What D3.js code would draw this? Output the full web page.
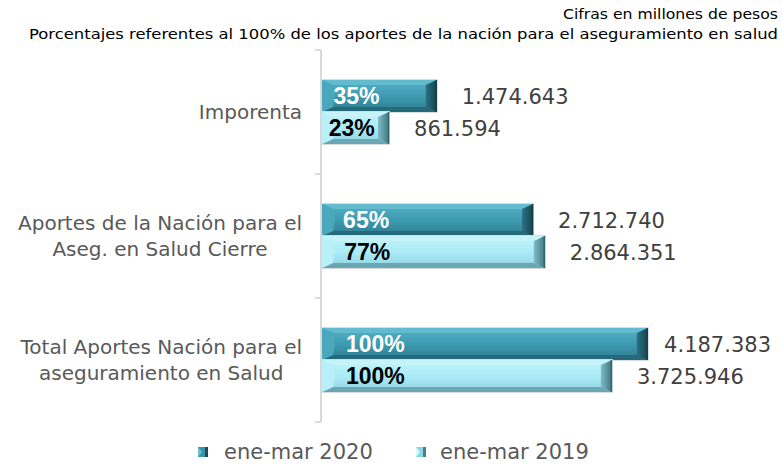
<!DOCTYPE html>
<html><head><meta charset="utf-8">
<script src="https://cdn.jsdelivr.net/npm/d3@7"></script>
<style>body{margin:0;background:#fff}svg{display:block}</style>
</head><body>
<svg id="c" width="782" height="465"></svg>
<script>
const categories = [
  ["Imporenta"],
  ["Aportes de la Nación para el", "Aseg. en Salud Cierre"],
  ["Total Aportes Nación para el", "aseguramiento en Salud"]
];
const seriesNames = ["ene-mar 2020", "ene-mar 2019"];
const values2020 = [1474643, 2712740, 4187383];
const values2019 = [861594, 2864351, 3725946];
const pct2020 = ["35%", "65%", "100%"];
const pct2019 = ["23%", "77%", "100%"];
const titleLines = ["Cifras en millones de pesos",
  "Porcentajes referentes al 100% de los aportes de la nación para el aseguramiento en salud"];

const svg = d3.select("#c");
const x = d3.scaleLinear().domain([0, 5000000]).range([322, 711]);
const y = d3.scaleBand().domain(d3.range(categories.length)).range([50, 422]);
const sub = d3.scaleBand().domain([0, 1]).range([0, 64]);
const fmt = v => d3.format(",")(v).replace(/,/g, ".");

const styles = [
  {main: ["#55b1c6", "#3d9bb1", "#2f7b8e"], top: "#62bbce", bot: "#26697a", left: "#4aa8bd", right: ["#2b7283", "#15424e"], txt: "#ffffff"},
  {main: ["#c2f4fb", "#aaebf7", "#90d4e1"], top: "#c6f2f9", bot: "#68a7b3", left: "#b8f0f9", right: ["#7fbcc7", "#3f7681"], txt: "#000000"}
];
const defs = svg.append("defs");
styles.forEach((s, i) => {
  const g = defs.append("linearGradient").attr("id", "g" + i).attr("x1", 0).attr("x2", 0).attr("y1", 0).attr("y2", 1);
  g.append("stop").attr("offset", "0%").attr("stop-color", s.main[0]);
  g.append("stop").attr("offset", "50%").attr("stop-color", s.main[1]);
  g.append("stop").attr("offset", "100%").attr("stop-color", s.main[2]);
  const r = defs.append("linearGradient").attr("id", "r" + i).attr("x1", 0).attr("x2", 1).attr("y1", 0).attr("y2", 0);
  r.append("stop").attr("offset", "0%").attr("stop-color", s.right[0]);
  r.append("stop").attr("offset", "100%").attr("stop-color", s.right[1]);
});

// titles
svg.append("text").attr("x", 778).attr("y", 19).attr("text-anchor", "end")
  .attr("font-family", "DejaVu Sans").attr("font-size", 14).attr("fill", "#000")
  .attr("textLength", 215).attr("lengthAdjust", "spacingAndGlyphs").text(titleLines[0]);
svg.append("text").attr("x", 778).attr("y", 39).attr("text-anchor", "end")
  .attr("font-family", "DejaVu Sans").attr("font-size", 14).attr("fill", "#000")
  .attr("textLength", 749).attr("lengthAdjust", "spacingAndGlyphs").text(titleLines[1]);

// axis
const axis = svg.append("g");
axis.append("line").attr("x1", 321).attr("x2", 321).attr("y1", 50).attr("y2", 422)
  .attr("stroke", "#d9d9d9").attr("stroke-width", 2);
[...d3.range(categories.length).map(i => y(i)), 422].forEach(t => {
  axis.append("line").attr("x1", 315).attr("x2", 321).attr("y1", t).attr("y2", t)
    .attr("stroke", "#d9d9d9").attr("stroke-width", 2);
});

// category labels
categories.forEach((lines, i) => {
  const cy = y(i) + y.bandwidth() / 2;
  const g = svg.append("g");
  const texts = lines.map((l, j) => g.append("text")
    .attr("font-family", "DejaVu Sans").attr("font-size", 20).attr("fill", "#595959")
    .attr("text-anchor", "middle")
    .attr("y", cy + (j - (lines.length - 1) / 2) * 26 + 7).text(l));
  const maxW = d3.max(texts, t => t.node().getComputedTextLength());
  texts.forEach(t => t.attr("x", 302 - maxW / 2));
});

function bar(g, x0, x1, y0, h, s, i) {
  const w = x1 - x0;
  const b = Math.min(11, w / 4), bt = 5;
  g.append("rect").attr("x", x0 - 0.5).attr("y", y0 - 0.5).attr("width", w + 1).attr("height", h + 1)
    .attr("fill", "none").attr("stroke", "#d4dcde").attr("stroke-width", 1);
  g.append("rect").attr("x", x0).attr("y", y0).attr("width", w).attr("height", h).attr("fill", `url(#g${i})`);
  const P = pts => g.append("polygon").attr("points", pts.map(p => p.join(",")).join(" "));
  P([[x0, y0], [x1, y0], [x1 - b, y0 + bt], [x0 + b, y0 + bt]]).attr("fill", s.top);
  P([[x0, y0 + h], [x1, y0 + h], [x1 - b, y0 + h - bt], [x0 + b, y0 + h - bt]]).attr("fill", s.bot);
  P([[x0, y0], [x0 + b, y0 + bt], [x0 + b + 2, y0 + h / 2], [x0 + b, y0 + h - bt], [x0, y0 + h]]).attr("fill", s.left);
  P([[x1, y0], [x1 - b, y0 + bt], [x1 - b, y0 + h - bt], [x1, y0 + h]]).attr("fill", `url(#r${i})`);
  g.append("line").attr("x1", x1 - 0.5).attr("x2", x1 - 0.5).attr("y1", y0).attr("y2", y0 + h)
    .attr("stroke", i === 0 ? "#12404c" : "#2f6873").attr("stroke-width", 1.5);
}

const series = [values2020, values2019];
const pcts = [pct2020, pct2019];
series.forEach((vals, si) => {
  const s = styles[si];
  vals.forEach((v, ci) => {
    const y0 = y(ci) + (y.bandwidth() - 64) / 2 + sub(si);
    const h = sub.bandwidth();
    const x0 = x(0), x1 = x(v);
    const g = svg.append("g");
    bar(g, x0, x1, y0, h, s, si);
    const bw = x1 - x0;
    g.append("text").attr("x", x0 + Math.min(24, bw * 0.1)).attr("y", y0 + h / 2 + 8)
      .attr("font-family", "'Liberation Sans Narrow', 'Liberation Sans'").attr("font-weight", "bold").attr("font-size", 23)
      .attr("fill", s.txt).text(pcts[si][ci]);
    const lab = svg.append("text").attr("y", y0 + h / 2 + 8)
      .attr("font-family", "DejaVu Sans").attr("font-size", 21).attr("fill", "#404040").text(fmt(v));
    const tw = lab.node().getComputedTextLength();
    lab.attr("x", Math.min(x1 + 25, 771 - tw));
  });
});

// legend
const leg = [[198, 224], [416, 440]];
seriesNames.forEach((n, i) => {
  const g = svg.append("g");
  const lx = leg[i][0], ly = 447;
  g.append("rect").attr("x", lx).attr("y", ly).attr("width", 10).attr("height", 10).attr("fill", i === 0 ? "#3a93a8" : "#8fd6e3");
  g.append("polygon").attr("points", `${lx},${ly} ${lx + 4},${ly + 5} ${lx},${ly + 10}`).attr("fill", i === 0 ? "#6cc0d2" : "#d6f7fc");
  g.append("rect").attr("x", lx + 7).attr("y", ly).attr("width", 3).attr("height", 10).attr("fill", i === 0 ? "#1a4d5a" : "#477f8a");
  g.append("text").attr("x", leg[i][1]).attr("y", ly + 12)
    .attr("font-family", "DejaVu Sans").attr("font-size", 21).attr("fill", "#595959").text(n);
});
</script>
</body></html>
